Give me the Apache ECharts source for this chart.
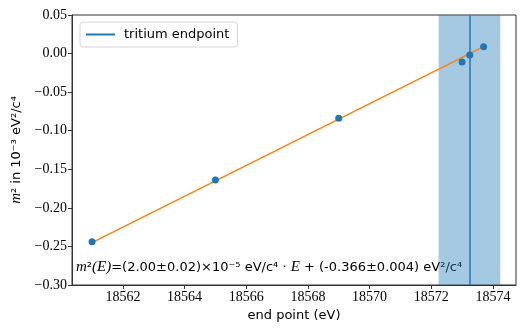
<!DOCTYPE html>
<html>
<head>
<meta charset="utf-8">
<script src="https://cdn.jsdelivr.net/npm/echarts@6/dist/echarts.min.js"></script>
<style>
  html, body { margin: 0; padding: 0; background: #fff; }
  #chart { width: 531px; height: 332px; }
</style>
</head>
<body>
<div id="chart"></div>
<script>
// measured end points (eV) and fitted m^2 (10^-3 eV^2/c^4)
const endPoints = [18561.0, 18565.0, 18569.0, 18573.0, 18573.25, 18573.7];
const mSquared = [-0.244, -0.164, -0.084, -0.011, -0.002, 0.009];
// linear fit, drawn between the outer points
const fitX = [18561.0, 18573.7];
const fitY = [-0.245, 0.009];
// tritium endpoint and its uncertainty band
const tritiumEndpoint = 18573.24;
const tritiumBand = [18572.24, 18574.24];
const xTicks = [18562, 18564, 18566, 18568, 18570, 18572, 18574];

const serif = '"Liberation Serif", "DejaVu Serif", serif';
const sans = '"DejaVu Sans", sans-serif';
const blue = '#1f77b4';
const orange = '#ff7f0e';

const chart = echarts.init(document.getElementById('chart'));
chart.setOption({
  animation: false,
  grid: { left: 72, right: 15, top: 15, bottom: 47, show: true, borderColor: '#333', borderWidth: 1, backgroundColor: 'transparent' },
  legend: {
    left: 80, top: 22,
    padding: [6, 8, 6, 6],
    itemWidth: 29, itemHeight: 2, itemGap: 10,
    icon: 'rect',
    backgroundColor: 'rgba(255,255,255,0.8)',
    borderColor: '#d6d6d6', borderWidth: 1, borderRadius: 3,
    textStyle: { fontFamily: sans, fontSize: 13, color: '#000', padding: [0, 0, 0, 4] },
    data: ['tritium endpoint']
  },
  xAxis: {
    type: 'value',
    min: 18560.35, max: 18574.75,
    name: 'end point (eV)', nameLocation: 'middle', nameGap: 24,
    nameTextStyle: { fontFamily: sans, fontSize: 13, color: '#000' },
    axisLine: { show: true, onZero: false, lineStyle: { color: '#333' } },
    axisTick: { show: true, length: 4, lineStyle: { color: '#333' }, customValues: xTicks },
    axisLabel: { customValues: xTicks, fontFamily: serif, fontSize: 14, color: '#000', margin: 5, formatter: v => String(v) },
    splitLine: { show: false }
  },
  yAxis: {
    type: 'value',
    min: -0.30, max: 0.05, interval: 0.05,
    name: '{it|m}{n|² in 10⁻³ eV²/c⁴}', nameLocation: 'middle', nameGap: 47, nameRotate: 90,
    nameTextStyle: {
      rich: {
        it: { fontFamily: serif, fontStyle: 'italic', fontSize: 15, color: '#000' },
        n: { fontFamily: sans, fontSize: 13, color: '#000' }
      }
    },
    axisLine: { show: true, onZero: false, lineStyle: { color: '#333' } },
    axisTick: { show: true, length: 4, lineStyle: { color: '#333' } },
    axisLabel: {
      fontFamily: serif, fontSize: 14, color: '#000', margin: 5,
      formatter: v => (v < 0 ? '\u2212' : '') + Math.abs(v).toFixed(2)
    },
    splitLine: { show: false }
  },
  series: [
    {
      name: 'tritium endpoint',
      type: 'line',
      data: [],
      color: blue,
      lineStyle: { color: blue, width: 1.5 },
      markArea: {
        silent: true,
        itemStyle: { color: 'rgba(31,119,180,0.4)' },
        data: [[{ xAxis: tritiumBand[0] }, { xAxis: tritiumBand[1] }]]
      },
      markLine: {
        silent: true, symbol: 'none', label: { show: false },
        lineStyle: { color: blue, width: 1.5, type: 'solid' },
        data: [{ xAxis: tritiumEndpoint }]
      }
    },
    {
      name: 'fit',
      type: 'line',
      data: fitX.map((x, i) => [x, fitY[i]]),
      showSymbol: false,
      lineStyle: { color: orange, width: 1.5 },
      z: 3
    },
    {
      name: 'data',
      type: 'scatter',
      data: endPoints.map((x, i) => [x, mSquared[i]]),
      symbolSize: 7,
      itemStyle: { color: blue, opacity: 1 },
      z: 4
    }
  ],
  graphic: [{
    type: 'text',
    left: 76, top: 260,
    style: {
      text: '{it|m}{n|²}{it|(E)}{n|=(2.00±0.02)×10⁻⁵ eV/c⁴ · }{it|E}{n| + (-0.366±0.004) eV²/c⁴}',
      rich: {
        it: { fontFamily: serif, fontStyle: 'italic', fontSize: 15, fill: '#000' },
        n: { fontFamily: sans, fontSize: 13, fill: '#000' }
      }
    }
  }]
});
</script>
</body>
</html>
